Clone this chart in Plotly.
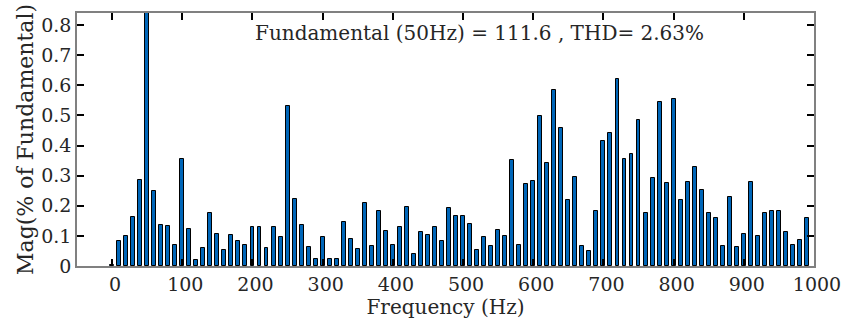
import plotly.graph_objects as go

freqs = list(range(0, 1000, 10))
mags = [
    0.003, 0.084, 0.098, 0.163, 0.285, 100.0, 0.249, 0.135, 0.133, 0.070,
    0.354, 0.122, 0.021, 0.060, 0.177, 0.105, 0.053, 0.102, 0.082, 0.071,
    0.128, 0.130, 0.060, 0.130, 0.097, 0.532, 0.222, 0.136, 0.064, 0.023,
    0.097, 0.022, 0.022, 0.147, 0.089, 0.057, 0.209, 0.068, 0.181, 0.116,
    0.070, 0.131, 0.197, 0.039, 0.113, 0.104, 0.131, 0.083, 0.194, 0.167,
    0.167, 0.141, 0.053, 0.097, 0.066, 0.120, 0.101, 0.351, 0.070, 0.272,
    0.281, 0.497, 0.343, 0.583, 0.459, 0.218, 0.294, 0.065, 0.049, 0.184,
    0.416, 0.443, 0.621, 0.355, 0.372, 0.485, 0.177, 0.293, 0.543, 0.276,
    0.553, 0.220, 0.279, 0.328, 0.253, 0.177, 0.160, 0.068, 0.230, 0.062,
    0.106, 0.279, 0.098, 0.177, 0.181, 0.183, 0.113, 0.070, 0.088, 0.160,
]
x_ticks = [0, 100, 200, 300, 400, 500, 600, 700, 800, 900, 1000]
y_ticks = [0, 0.1, 0.2, 0.3, 0.4, 0.5, 0.6, 0.7, 0.8]
y_tick_text = ["0", "0.1", "0.2", "0.3", "0.4", "0.5", "0.6", "0.7", "0.8"]
annotation_text = "Fundamental (50Hz) = 111.6 , THD= 2.63%"

FONT = "DejaVu Serif"
TXT = "#262626"

fig = go.Figure()
fig.add_trace(go.Bar(
    x=freqs, y=mags, width=5.6,
    marker=dict(color="#0066B8", line=dict(color="black", width=1)),
    showlegend=False,
))

fig.update_layout(
    width=852, height=320,
    margin=dict(l=77, r=31, t=11, b=50),
    paper_bgcolor="white", plot_bgcolor="white",
    font=dict(family=FONT, size=19, color=TXT),
    bargap=0,
    annotations=[dict(
        text=annotation_text, x=524, y=0.975, xref="x", yref="paper",
        xanchor="center", yanchor="top", showarrow=False,
        font=dict(family=FONT, size=20, color=TXT),
    )],
)
fig.update_xaxes(
    range=[-50, 1000], tickvals=x_ticks, ticks="inside", ticklen=7,
    tickcolor="black", tickwidth=1.5, showline=True, linecolor="#808080",
    linewidth=1.5, mirror="ticks", showgrid=False, zeroline=False,
    ticklabelshift=3,
    tickfont=dict(family=FONT, size=19, color=TXT),
    title=dict(text="Frequency (Hz)", standoff=0,
               font=dict(family=FONT, size=20, color=TXT)),
)
fig.update_yaxes(
    range=[0, 0.84], tickvals=y_ticks, ticktext=y_tick_text, ticks="inside",
    ticklen=7, tickcolor="black", tickwidth=1.5, showline=True,
    linecolor="#808080", linewidth=1.5, mirror="ticks", showgrid=False,
    zeroline=False, tickfont=dict(family=FONT, size=19, color=TXT),
    title=dict(text="Mag(% of Fundamental)", standoff=2,
               font=dict(family=FONT, size=22, color=TXT)),
)

fig.write_html("out.html")
